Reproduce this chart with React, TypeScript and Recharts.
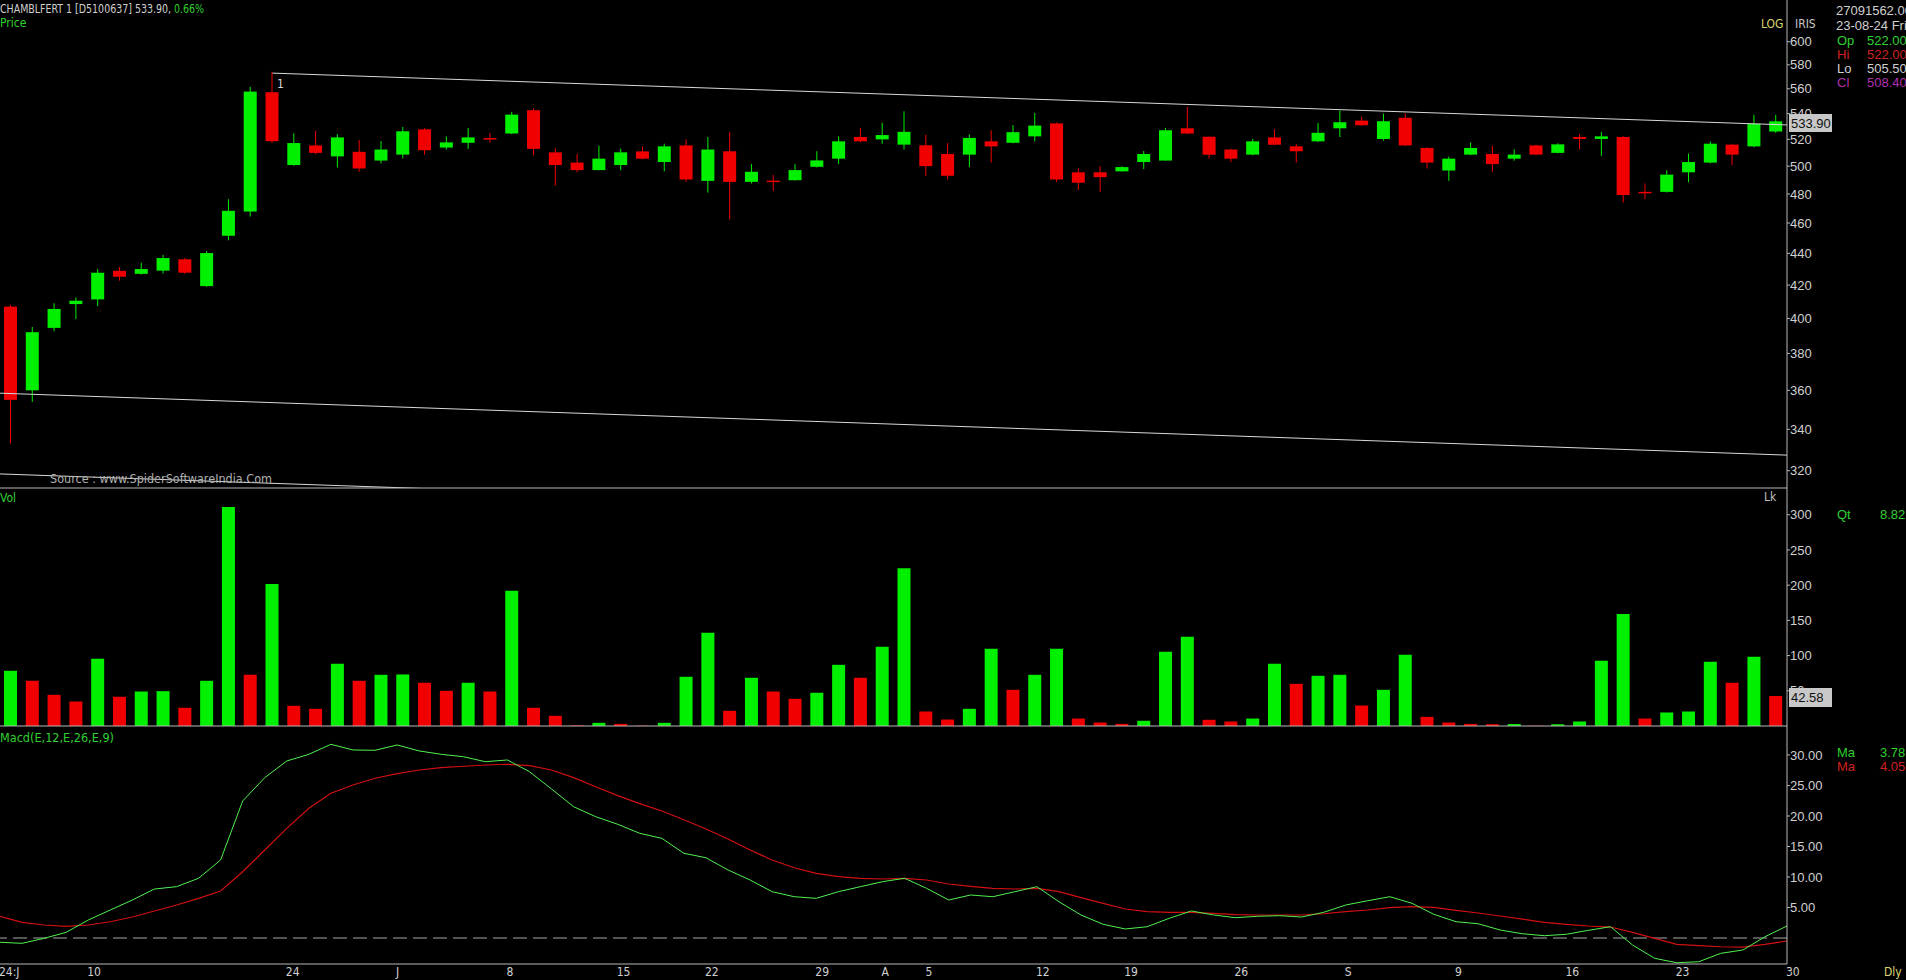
import React from "react"
import {
    ComposedChart,
    Bar,
    Line,
    Cell,
    XAxis,
    YAxis,
    ReferenceLine,
} from "recharts"

// daily candles, 04-Jun-2024 .. 30-Sep-2024
const opens = [
    407, 360, 394.5, 408.5, 411.3, 428.9, 427, 429, 436.2, 419.4, 451.5, 467.8, 557.2, 500.8, 515.4, 507.2, 510.6,
    504.1, 508.5, 527.7, 513.8, 517.4, 521, 524.5, 542.7, 510.2, 502.6, 497.1, 500.8, 510.9, 503, 515.4, 489.3, 511,
    488.6, 489.5, 489.8, 499.5, 505.5, 521.8, 520, 516, 515.5, 509, 508.5, 518.5, 517.4, 522.3, 532.3, 495.5, 495.5,
    496.2, 503, 504.1, 528.5, 522, 512.3, 508.5, 521.5, 514.7, 518.5, 528.5, 534.5, 520.3, 536.7, 513.5, 496.8, 508.5,
    509, 505.5, 515.4, 509.8, 521.8, 520.3, 521.8, 481.5, 481.5, 495.5, 502.6, 516, 514.7, 526,
]
const highs = [
    408, 395, 409, 412.5, 430, 431.4, 434, 439, 437, 441.5, 476.3, 561.6, 574, 524.5, 526.6, 524, 519.5, 518.7, 529.5,
    528.5, 522.3, 528.8, 524.8, 541.4, 544.3, 513.3, 509, 515.2, 513, 514.5, 516.7, 520, 521.8, 525.6, 501.5, 493.5,
    501.5, 511, 522.3, 528.8, 532.7, 541.8, 523.6, 517.2, 523.8, 527, 531, 540.5, 533, 498.3, 500, 500, 511.2, 528.8,
    545.4, 522, 513, 520.3, 527.7, 516.4, 532.7, 542.4, 537.5, 540, 540.3, 514, 507, 517.7, 515.2, 512.3, 516, 517,
    524, 525.7, 522.5, 487.5, 497, 509.3, 518.5, 516.5, 539, 539,
]
const lows = [
    333, 354, 392.6, 399.6, 407.3, 422.7, 426.5, 427.3, 427, 419, 448.5, 464.4, 517.4, 500.3, 508.7, 499, 496, 502,
    505.6, 508.5, 512.3, 512.8, 517.5, 524, 508, 486, 495.5, 497, 497, 505, 496.2, 488.6, 481, 462.4, 487.5, 482, 489.5,
    499, 501.5, 518, 516.7, 512.3, 493, 490.3, 499.3, 502.6, 517, 518.5, 488.6, 482.8, 481.5, 496, 497.8, 504, 524,
    505.5, 502.9, 508, 515.5, 502.6, 518, 521.8, 530.5, 519, 515, 498.3, 489.3, 508, 495.7, 504, 508, 509.5, 512.3,
    507.6, 474, 476.3, 481, 488.3, 502, 500.8, 514, 525,
]
const closes = [
    355, 392, 405.6, 410.5, 427.7, 425.2, 430, 437, 427.7, 440.2, 468.3, 557.7, 518.6, 517.2, 509.8, 521.5, 498.3,
    512.3, 526.2, 511.8, 517.7, 521.5, 520.3, 539.2, 512.8, 500.8, 497.1, 505.5, 510.2, 505.5, 514.7, 490.3, 512.3,
    488.6, 495.9, 489, 497.1, 504.2, 518.5, 518.5, 523.3, 525.8, 500, 493, 521.1, 514.7, 525.5, 530.6, 490.3, 488, 492,
    499.3, 509, 527, 524.5, 508.4, 505.5, 518.5, 515.9, 511, 525, 533.2, 530.9, 534, 515.4, 502.6, 505.5, 513.5, 501.5,
    508.5, 508.5, 516.2, 520.3, 522.3, 479.3, 480.5, 493.8, 503, 516.7, 508.5, 532, 533.9,
]
// volume in lakh shares
const volumes = [
    78.4, 64.2, 44.3, 34.8, 95.5, 41.5, 49, 49.5, 25.9, 64.2, 311, 72.7, 201.5, 28.7, 24.4, 88.4, 64.2, 72.7, 73.2,
    61.4, 50, 61.4, 49, 192, 25.9, 14.5, 1, 4.5, 3, 0.5, 4.5, 69.9, 132.4, 21.6, 68.5, 49, 38.6, 47.2, 86.9, 68.5,
    112.5, 224, 20.6, 9.2, 24.4, 109.7, 51.4, 72.7, 109.7, 10.6, 5, 3, 7.4, 105.4, 126.7, 8.82, 6.4, 10.6, 88.4, 59.9,
    71.3, 72.7, 29.1, 51.4, 101.1, 13, 5, 3, 2.6, 2.8, 0.5, 2.5, 6.4, 92.6, 159, 10.6, 19.2, 20.6, 91.2, 61.4, 98.3,
    42.58,
]
const macdLine = [
    -0.7, -0.87, -0.05, 0.93, 2.95, 4.59, 6.23, 8.03, 8.41, 9.79, 12.79, 22.46, 26.28, 29.02, 30.11, 31.75, 30.82,
    30.77, 31.64, 30.66, 30.11, 29.72, 28.9, 29.18, 27.26, 24.43, 21.52, 19.89, 18.64, 17.16, 16.34, 13.88, 13.16,
    11.15, 9.51, 7.59, 6.77, 6.5, 7.59, 8.41, 9.23, 9.79, 8.15, 6.23, 7.05, 6.77, 7.59, 8.41, 5.95, 3.77, 2.25, 1.48,
    1.85, 3.23, 4.43, 3.78, 3.33, 3.56, 3.66, 3.44, 4.21, 5.41, 6.11, 6.77, 5.69, 3.87, 2.67, 2.34, 1.31, 0.7, 0.38,
    0.61, 1.26, 1.85, -1.15, -3.33, -4.05, -3.89, -2.51, -1.97, 0.21, 1.97,
]
const signalLine = [
    3.56, 2.57, 2.13, 1.92, 2.13, 2.67, 3.44, 4.43, 5.41, 6.5, 7.7, 10.87, 14.43, 17.98, 21.26, 23.72, 25.08, 26.18,
    26.93, 27.54, 27.92, 28.15, 28.36, 28.48, 28.25, 27.54, 26.28, 24.8, 23.33, 22.02, 20.82, 19.39, 17.87, 16.23,
    14.43, 12.79, 11.52, 10.6, 10.05, 9.79, 9.67, 9.79, 9.51, 8.85, 8.47, 8.15, 8.03, 8.15, 7.59, 6.61, 5.69, 4.75,
    4.31, 4.21, 4.21, 4.05, 3.82, 3.77, 3.77, 3.77, 3.98, 4.31, 4.59, 4.97, 5.13, 5.03, 4.54, 4.1, 3.61, 3.11, 2.57,
    2.25, 1.97, 1.8, 0.93, -0.05, -1.03, -1.26, -1.43, -1.48, -1.03, -0.49,
]

const tickIdx = [1, 5, 14, 19, 24, 29, 33, 38, 41, 43, 48, 52, 57, 62, 67, 72, 77, 82]
const tickText = ["24:J", "10", "24", "J", "8", "15", "22", "29", "A", "5", "12", "19", "26", "S", "9", "16", "23", "30"]
const priceTicks = [320, 340, 360, 380, 400, 420, 440, 460, 480, 500, 520, 540, 560, 580, 600]
const volTicks = [50, 100, 150, 200, 250, 300]
const macdTicks = [5, 10, 15, 20, 25, 30]

// trend channel drawn on the price pane (bar index, price)
const upperLine = [
    { x: 13, y: 573 },
    { x: 82.5, y: 531.1 },
]
const lowerLine = [
    { x: 0.5, y: 358.5 },
    { x: 82.5, y: 327.4 },
]
const bottomLine = [
    { x: 0.5, y: 318.5 },
    { x: 82.5, y: 291 },
]

const GREEN = "#00f000"
const RED = "#f00000"
const AXIS = "#b8b8b8"
const TXT = "#d0d0d0"
const W = 1906
const AXIS_W = 119
const NARROW = "'Liberation Sans Narrow', 'DejaVu Sans Condensed', 'Liberation Sans', sans-serif"
const SANS = "'Liberation Sans', Arial, sans-serif"

const data = opens.map((o, k) => ({
    i: k + 1,
    open: o,
    high: highs[k],
    low: lows[k],
    close: closes[k],
    range: [lows[k], highs[k]],
    vol: volumes[k],
    macd: macdLine[k],
    signal: signalLine[k],
}))

const Candle = (props: any) => {
    const { x, y, width, height, payload } = props
    if (!payload || height == null) return null
    const { open, close, high, low } = payload
    const lh = Math.log(high)
    const ll = Math.log(low)
    const toY = (v: number) => y + (height * (lh - Math.log(v))) / (lh - ll || 1)
    const cx = x + width / 2
    const color = close >= open ? GREEN : RED
    const top = toY(Math.max(open, close))
    const bot = toY(Math.min(open, close))
    return (
        <g>
            <line x1={cx} x2={cx} y1={y} y2={y + height} stroke={color} strokeWidth={1} />
            <rect x={x} y={top} width={width} height={Math.max(1.5, bot - top)} fill={color} />
        </g>
    )
}

const DateTick = (props: any) => {
    const { x, y, payload } = props
    const k = tickIdx.indexOf(payload.value)
    if (k < 0) return null
    return (
        <text x={x - 1} y={y + 8} fill={TXT} fontSize={12} fontFamily={NARROW} textAnchor="start" dominantBaseline="central">
            {tickText[k]}
        </text>
    )
}

const yTick = { fill: TXT, fontSize: 13, fontFamily: SANS }

const T = ({ x, y, c = TXT, s = 12, f = NARROW, a = "start", len, children }: any) => (
    <text
        x={x}
        y={y}
        fill={c}
        fontSize={s}
        fontFamily={f}
        textAnchor={a}
        dominantBaseline="central"
        textLength={len}
        lengthAdjust={len ? "spacingAndGlyphs" : undefined}
    >
        {children}
    </text>
)

export default function App() {
    return (
        <div style={{ position: "fixed", left: 0, top: 0, width: W, height: 980, background: "#000", overflow: "hidden" }}>
            <div style={{ position: "absolute", left: 0, top: 0 }}>
                <ComposedChart width={W} height={488} data={data} margin={{ top: 0, right: 0, bottom: 0, left: 0 }}>
                    <XAxis dataKey="i" hide />
                    <XAxis xAxisId="n" type="number" dataKey="i" domain={[0.5, 82.5]} allowDataOverflow hide />
                    <YAxis
                        orientation="right"
                        width={AXIS_W}
                        scale="log"
                        domain={[312, 637.8]}
                        allowDataOverflow
                        ticks={priceTicks}
                        tick={yTick}
                        tickSize={3}
                        tickMargin={0}
                        axisLine={{ stroke: AXIS }}
                        tickLine={{ stroke: AXIS }}
                    />
                    <Bar dataKey="range" barSize={13} shape={<Candle />} isAnimationActive={false} />
                    <ReferenceLine xAxisId="n" segment={upperLine} stroke="#d8d8d8" strokeWidth={1} ifOverflow="visible" />
                    <ReferenceLine xAxisId="n" segment={lowerLine} stroke="#d8d8d8" strokeWidth={1} ifOverflow="visible" />
                    <ReferenceLine xAxisId="n" segment={bottomLine} stroke="#d8d8d8" strokeWidth={1} ifOverflow="visible" />
                </ComposedChart>
            </div>

            <div style={{ position: "absolute", left: 0, top: 488 }}>
                <ComposedChart width={W} height={238} data={data} margin={{ top: 0, right: 0, bottom: 0, left: 0 }}>
                    <XAxis dataKey="i" hide />
                    <YAxis
                        orientation="right"
                        width={AXIS_W}
                        domain={[0, 338]}
                        ticks={volTicks}
                        tick={yTick}
                        tickSize={3}
                        tickMargin={0}
                        axisLine={{ stroke: AXIS }}
                        tickLine={{ stroke: AXIS }}
                    />
                    <Bar dataKey="vol" barSize={13} isAnimationActive={false}>
                        {data.map((d, k) => (
                            <Cell key={`v-${k}`} fill={k === 0 || d.vol >= volumes[k - 1] ? GREEN : RED} />
                        ))}
                    </Bar>
                </ComposedChart>
            </div>

            <div style={{ position: "absolute", left: 0, top: 726 }}>
                <ComposedChart width={W} height={254} data={data} margin={{ top: 0, right: 0, bottom: 0, left: 0 }}>
                    <XAxis
                        dataKey="i"
                        interval={0}
                        height={16}
                        tick={<DateTick />}
                        tickSize={0}
                        tickMargin={0}
                        tickLine={false}
                        axisLine={{ stroke: AXIS }}
                    />
                    <YAxis
                        orientation="right"
                        width={AXIS_W}
                        domain={[-4.26, 34.75]}
                        allowDataOverflow
                        ticks={macdTicks}
                        tickFormatter={(v: number) => v.toFixed(2)}
                        tick={yTick}
                        tickSize={3}
                        tickMargin={0}
                        axisLine={{ stroke: AXIS }}
                        tickLine={{ stroke: AXIS }}
                    />
                    <ReferenceLine y={0} stroke="#a8a8a8" strokeDasharray="14 6" />
                    <Line type="linear" dataKey="signal" stroke="#d01010" strokeWidth={1.2} dot={false} isAnimationActive={false} />
                    <Line type="linear" dataKey="macd" stroke="#50f050" strokeWidth={1} dot={false} isAnimationActive={false} />
                </ComposedChart>
            </div>

            <svg width={W} height={980} style={{ position: "absolute", left: 0, top: 0, pointerEvents: "none" }}>
                <line x1={0} x2={1787} y1={488} y2={488} stroke={AXIS} />
                <line x1={0} x2={1787} y1={726} y2={726} stroke={AXIS} />

                <text x={0} y={9} fontSize={12} fontFamily={NARROW} dominantBaseline="central" textLength={204} lengthAdjust="spacingAndGlyphs">
                    <tspan fill={TXT}>CHAMBLFERT 1 [D5100637]  533.90,  </tspan>
                    <tspan fill="#30d030">0.66%</tspan>
                </text>
                <T x={0} y={23} c="#30d030">Price</T>
                <T x={277} y={84} c="#d8d8d8">1</T>
                <T x={50} y={479} c="#b0b0b0" len={222}>Source : www.SpiderSoftwareIndia.Com</T>
                <T x={0} y={498} c="#30d030">Vol</T>
                <T x={0} y={738} c="#30d030" len={114}>Macd(E,12,E,26,E,9)</T>
                <T x={1764} y={497} c="#c0c0c0">Lk</T>

                <T x={1761} y={24} c="#d8d870">LOG</T>
                <T x={1795} y={24} c="#c8c8c8">IRIS</T>

                <T x={1836} y={10} s={13} f={SANS}>27091562.00</T>
                <T x={1836} y={25} s={13} f={SANS}>23-08-24 Fri</T>
                <T x={1837} y={40} s={13} f={SANS} c="#30d030">Op</T>
                <T x={1867} y={40} s={13} f={SANS} c="#30d030">522.00</T>
                <T x={1837} y={54} s={13} f={SANS} c="#d02020">Hi</T>
                <T x={1867} y={54} s={13} f={SANS} c="#d02020">522.00</T>
                <T x={1837} y={68} s={13} f={SANS}>Lo</T>
                <T x={1867} y={68} s={13} f={SANS}>505.50</T>
                <T x={1837} y={82} s={13} f={SANS} c="#b030b0">Cl</T>
                <T x={1867} y={82} s={13} f={SANS} c="#b030b0">508.40</T>

                <T x={1837} y={514} s={13} f={SANS} c="#30d030">Qt</T>
                <T x={1880} y={514} s={13} f={SANS} c="#30d030">8.82</T>
                <T x={1837} y={752} s={13} f={SANS} c="#30d030">Ma</T>
                <T x={1880} y={752} s={13} f={SANS} c="#30d030">3.78</T>
                <T x={1837} y={766} s={13} f={SANS} c="#d02020">Ma</T>
                <T x={1880} y={766} s={13} f={SANS} c="#d02020">4.05</T>
                <T x={1884} y={972} s={12} c="#d8d870">Dly</T>

                <rect x={1789} y={114} width={43} height={18} fill="#c8c8c8" />
                <T x={1791} y={123} s={13} f={SANS} c="#101010">533.90</T>
                <rect x={1789} y={688} width={43} height={19} fill="#c8c8c8" />
                <T x={1791} y={697.5} s={13} f={SANS} c="#101010">42.58</T>
            </svg>
        </div>
    )
}
